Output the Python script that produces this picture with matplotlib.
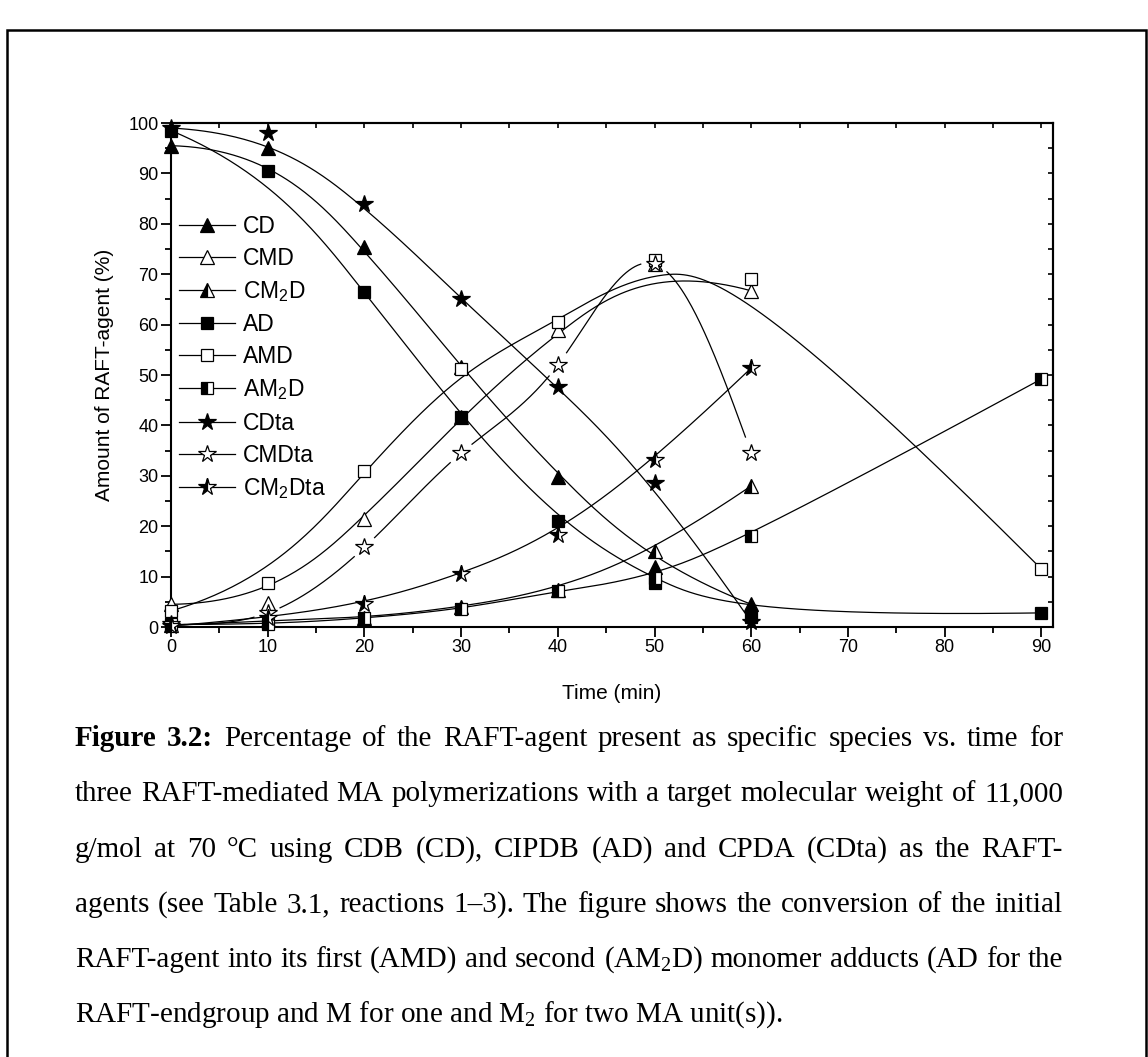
import numpy as np
import matplotlib
matplotlib.use('Agg')
import matplotlib.pyplot as plt
from matplotlib.lines import Line2D
from matplotlib.patches import Rectangle

plt.rcParams['font.family'] = ['Liberation Sans', 'DejaVu Sans']

# values (% of RAFT-agent)
t_short = [0, 10, 20, 30, 40, 50, 60]
t_long = [0, 10, 20, 30, 40, 50, 60, 90]

cd = [95.5, 95.0, 75.3, 51.5, 29.8, 12.0, 4.5]
cmd = [4.5, 4.7, 21.5, 41.7, 59.0, 72.0, 66.7]
cm2d = [0.3, 1.3, 1.7, 4.0, 7.3, 15.0, 28.0]
ad = [98.5, 90.5, 66.5, 41.7, 21.0, 8.7, 2.0, 2.8]
amd = [3.2, 8.7, 31.0, 51.2, 60.6, 72.8, 69.0, 11.5]
am2d = [0.5, 0.5, 1.7, 3.5, 7.2, 9.7, 18.0, 49.2]
cdta = [99.0, 98.0, 84.0, 65.0, 47.7, 28.6, 1.0]
cmdta = [0.5, 2.8, 15.8, 34.5, 52.0, 72.0, 34.5]
cm2dta = [0.2, 1.8, 4.5, 10.5, 18.3, 33.1, 51.4]

labels = ['CD', 'CMD', r'CM$\mathregular{_2}$D', 'AD', 'AMD', r'AM$\mathregular{_2}$D',
          'CDta', 'CMDta', r'CM$\mathregular{_2}$Dta']

caption = [
    [('Figure', True), ('3.2:', True), ('Percentage', False), ('of', False), ('the', False),
     ('RAFT-agent', False), ('present', False), ('as', False), ('specific', False),
     ('species', False), ('vs.', False), ('time', False), ('for', False)],
    'three RAFT-mediated MA polymerizations with a target molecular weight of 11,000',
    'g/mol at 70 °C using CDB (CD), CIPDB (AD) and CPDA (CDta) as the RAFT-',
    'agents (see Table 3.1, reactions 1–3). The figure shows the conversion of the initial',
    r'RAFT-agent into its first (AMD) and second (AM$\mathregular{_2}$D) monomer adducts (AD for the',
    r'RAFT-endgroup and M for one and M$\mathregular{_2}$ for two MA unit(s)).',
]


def bspline(x, y, k=3, n_pts=400):
    """Clamped uniform B-spline using the data points as control points."""
    x = np.asarray(x, float)
    y = np.asarray(y, float)
    n = len(x)
    knots = np.concatenate([np.zeros(k), np.arange(n - k + 1), np.full(k, n - k)])
    u = np.linspace(0, n - k, n_pts)
    N = np.zeros((n_pts, len(knots) - 1))
    for i in range(len(knots) - 1):
        N[:, i] = (u >= knots[i]) & (u < knots[i + 1])
    N[-1, :] = 0
    N[-1, n - 1] = 1
    for p in range(1, k + 1):
        Nn = np.zeros((n_pts, len(knots) - 1 - p))
        for i in range(len(knots) - 1 - p):
            d1 = knots[i + p] - knots[i]
            d2 = knots[i + p + 1] - knots[i + 1]
            a = (u - knots[i]) / d1 * N[:, i] if d1 > 0 else 0
            b = (knots[i + p + 1] - u) / d2 * N[:, i + 1] if d2 > 0 else 0
            Nn[:, i] = a + b
        N = Nn
    return N @ x, N @ y


def natural_spline(x, y, n_pts=400):
    x = np.asarray(x, float)
    y = np.asarray(y, float)
    n = len(x)
    h = np.diff(x)
    A = np.zeros((n, n))
    rhs = np.zeros(n)
    A[0, 0] = A[-1, -1] = 1
    for i in range(1, n - 1):
        A[i, i - 1] = h[i - 1]
        A[i, i] = 2 * (h[i - 1] + h[i])
        A[i, i + 1] = h[i]
        rhs[i] = 6 * ((y[i + 1] - y[i]) / h[i] - (y[i] - y[i - 1]) / h[i - 1])
    M = np.linalg.solve(A, rhs)
    xs = np.linspace(x[0], x[-1], n_pts)
    idx = np.clip(np.searchsorted(x, xs) - 1, 0, n - 2)
    x0, x1 = x[idx], x[idx + 1]
    hh = x1 - x0
    a = (x1 - xs) / hh
    b = (xs - x0) / hh
    ys = a * y[idx] + b * y[idx + 1] + ((a ** 3 - a) * M[idx] + (b ** 3 - b) * M[idx + 1]) * hh ** 2 / 6
    return xs, ys


W, H = 1148, 1057
fig = plt.figure(figsize=(W / 100, H / 100), dpi=100)
ax = fig.add_axes([171 / W, 1 - 627 / H, 882 / W, 504 / H])
ax.set_xlim(0, 91.2)
ax.set_ylim(0, 100)

# (x, y, marker, fillstyle, face, size, smoothing, gap around symbols in px)
series = [
    (t_short, cd, '^', 'full', 'black', 10, bspline, 0),
    (t_short, cmd, '^', 'full', 'white', 10, bspline, 0),
    (t_short, cm2d, '^', 'left', 'black', 10, bspline, 0),
    (t_long, ad, 's', 'full', 'black', 9, bspline, 0),
    (t_long, amd, 's', 'full', 'white', 9, bspline, 0),
    (t_long, am2d, 's', 'left', 'black', 9, bspline, 0),
    (t_short, cdta, '*', 'full', 'black', 13, bspline, 0),
    (t_short, cmdta, '*', 'full', 'white', 13, natural_spline, 13),
    (t_short, cm2dta, '*', 'left', 'black', 13, bspline, 0),
]

handles = []
for i, (t, v, mk, fs, fc, ms, smooth, gap) in enumerate(series):
    xs, ys = smooth(t, v)
    if gap:
        # leave a small gap in the line around each symbol, like the original
        pix = ax.transData.transform(np.column_stack([xs, ys]))
        pts = ax.transData.transform(np.column_stack([t, v]))
        dist = np.min(np.hypot(pix[:, None, 0] - pts[None, :, 0],
                               pix[:, None, 1] - pts[None, :, 1]), axis=1)
        ys = np.where(dist < gap, np.nan, ys)
    ax.plot(xs, ys, color='black', lw=0.9, zorder=2 + i, clip_on=False)
    style = dict(marker=mk, fillstyle=fs, markerfacecolor=fc, markerfacecoloralt='white',
                 markeredgecolor='black', markeredgewidth=0.9, markersize=ms)
    ax.plot(t, v, linestyle='none', zorder=20 + i, clip_on=False, **style)
    handles.append(Line2D([], [], color='black', lw=0.9, **style))

ax.set_xticks(np.arange(0, 91, 10))
ax.set_xticks(np.arange(5, 91, 10), minor=True)
ax.set_yticks(np.arange(0, 101, 10))
ax.set_yticks(np.arange(5, 100, 10), minor=True)
ax.tick_params(which='major', direction='out', length=7, width=1.3, labelsize=13, pad=2)
ax.tick_params(which='minor', direction='out', length=4, width=1.3)
for sp in ax.spines.values():
    sp.set_linewidth(1.5)

top = ax.secondary_xaxis('top')
top.set_xticks(np.arange(0, 91, 5))
top.tick_params(direction='in', length=3.5, width=1.2, labeltop=False)
top.spines['top'].set_linewidth(1.5)
right = ax.secondary_yaxis('right')
right.set_yticks(np.arange(0, 101, 5))
right.tick_params(direction='in', length=3.5, width=1.2, labelright=False)
right.spines['right'].set_linewidth(1.5)

ax.set_xlabel('Time (min)', fontsize=15, labelpad=20)
ax.set_ylabel('Amount of RAFT-agent (%)', fontsize=15, labelpad=10)

ax.legend(handles, labels, loc='upper left', bbox_to_anchor=(0.009, 0.818), frameon=False,
          fontsize=16.5, handlelength=2.45, handletextpad=0.35, labelspacing=0.4,
          borderpad=0, borderaxespad=0)

# frame around figure + caption (runs off the bottom of the image)
fig.patches.append(Rectangle((7 / W, -0.05), (1146 - 7) / W, 1.05 - 30 / H,
                             transform=fig.transFigure, fill=False, lw=1.8, ec='black'))

cap_font = dict(family='Liberation Serif', fontsize=21, va='baseline')
x_left, x_right = 75, 1063
baselines = [746, 801, 857, 912, 967, 1022]

fig.canvas.draw()
renderer = fig.canvas.get_renderer()
for line, yb in zip(caption, baselines):
    y = 1 - yb / H
    if line is caption[-1]:
        fig.text(x_left / W, y, line, **cap_font)
        continue
    if isinstance(line, str):
        words = [(w, False) for w in line.split(' ')]
    else:
        words = line
    objs = []
    widths = []
    for w, bold in words:
        txt = fig.text(0, y, w, fontweight='bold' if bold else 'normal', **cap_font)
        objs.append(txt)
        widths.append(txt.get_window_extent(renderer).width)
    space = (x_right - x_left - sum(widths)) / (len(words) - 1)
    xpos = x_left
    for txt, wd in zip(objs, widths):
        txt.set_x(xpos / W)
        xpos += wd + space

fig.savefig('out.png', dpi=100)
